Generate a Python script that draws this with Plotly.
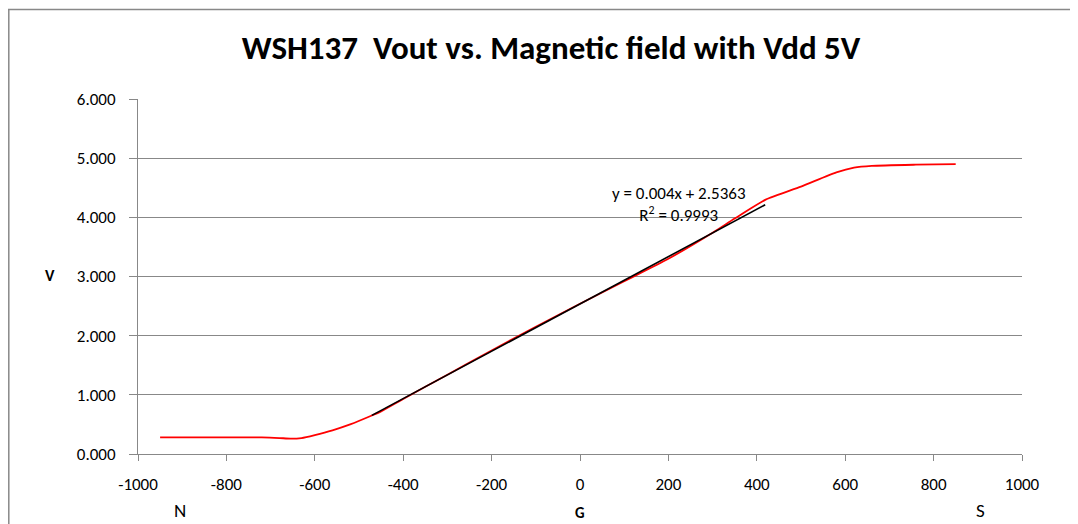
import plotly.graph_objects as go

# Measured Vout (V) vs magnetic field (G)
field_g = [-950, -900, -800, -720, -680, -655, -630, -600, -560, -520, -471, -450, -400, -300, -200, -100, 0, 100, 200, 300, 350, 420, 500, 580, 620, 660, 760, 850]
vout_v = [0.28, 0.28, 0.28, 0.28, 0.27, 0.26, 0.27, 0.32, 0.40, 0.50, 0.65, 0.72, 0.93, 1.34, 1.75, 2.15, 2.54, 2.92, 3.30, 3.74, 3.98, 4.30, 4.52, 4.76, 4.84, 4.87, 4.89, 4.90]

# Linear trendline
trend_slope = 0.004
trend_intercept = 2.5363
trend_r2 = 0.9993
trend_x = [-471, 419]
trend_y = [trend_slope * x + trend_intercept for x in trend_x]

x_ticks = [-1000, -800, -600, -400, -200, 0, 200, 400, 600, 800, 1000]
y_ticks = [0, 1, 2, 3, 4, 5, 6]

FONT = "Carlito, Lato, 'Open Sans', sans-serif"
OFF = 8  # page body margin

fig = go.Figure()
fig.add_trace(go.Scatter(x=field_g, y=vout_v, mode="lines",
                         line=dict(color="#ff0000", width=1.8, shape="spline", smoothing=0.6),
                         showlegend=False))
fig.add_trace(go.Scatter(x=trend_x, y=trend_y, mode="lines",
                         line=dict(color="#000000", width=1.6), showlegend=False))

W, H = 1078 - OFF, 524 - OFF
L, R, T, B = 138 - OFF, 1022 - OFF, 99 - OFF, 454 - OFF


def px(xs):
    return (xs - OFF - L) / (R - L)


def py(ys):
    return (B - (ys - OFF)) / (B - T)


def label(text, xs, ys, size):
    return dict(text=text, x=px(xs), y=py(ys), xref="paper", yref="paper", showarrow=False,
                xanchor="center", yanchor="middle", font=dict(size=size))


fig.update_layout(
    width=W, height=H,
    margin=dict(l=L, r=W - R, t=T, b=H - B),
    paper_bgcolor="white", plot_bgcolor="white",
    font=dict(family=FONT, size=17, color="#000000"),
    title=dict(text="<b>WSH137  Vout vs. Magnetic field with Vdd 5V</b>", x=px(551), xref="paper", xanchor="center",
               y=1 - (47 - OFF) / H, yanchor="middle", font=dict(family=FONT, size=33, color="#000000")),
    xaxis=dict(range=[-1000, 1000], tickvals=x_ticks, ticktext=[str(v) for v in x_ticks],
               showgrid=False, zeroline=False, showline=True, linecolor="#888888", linewidth=1,
               ticks="outside", ticklen=6, tickcolor="#888888", tickfont=dict(size=17),
               ticklabelstandoff=9, fixedrange=True),
    yaxis=dict(range=[0, 6], tickvals=y_ticks, tickformat=".3f",
               showgrid=True, gridcolor="#888888", gridwidth=1, zeroline=False,
               showline=True, linecolor="#888888", linewidth=1,
               ticks="outside", ticklen=8, tickcolor="#888888", tickfont=dict(size=17),
               ticklabelstandoff=10, fixedrange=True),
    shapes=[
        dict(type="line", xref="paper", yref="paper", x0=px(7), x1=px(1100), y0=py(9.5), y1=py(9.5),
             line=dict(color="#888888", width=1.5)),
        dict(type="line", xref="paper", yref="paper", x0=px(8.8), x1=px(8.8), y0=py(9), y1=py(540),
             line=dict(color="#888888", width=1.5)),
    ],
    annotations=[
        dict(text=f"y = {trend_slope}x + {trend_intercept}<br>R<sup>2</sup> = {trend_r2}", x=224, y=4.22,
             xref="x", yref="y", showarrow=False, align="center", xanchor="center", yanchor="middle",
             font=dict(size=17)),
        label("<b>V</b>", 50, 275, 16),
        label("N", 180, 510, 19),
        label("<b>G</b>", 580, 513, 15),
        label("S", 980, 510, 19),
    ],
)

fig.write_html("out.html")
